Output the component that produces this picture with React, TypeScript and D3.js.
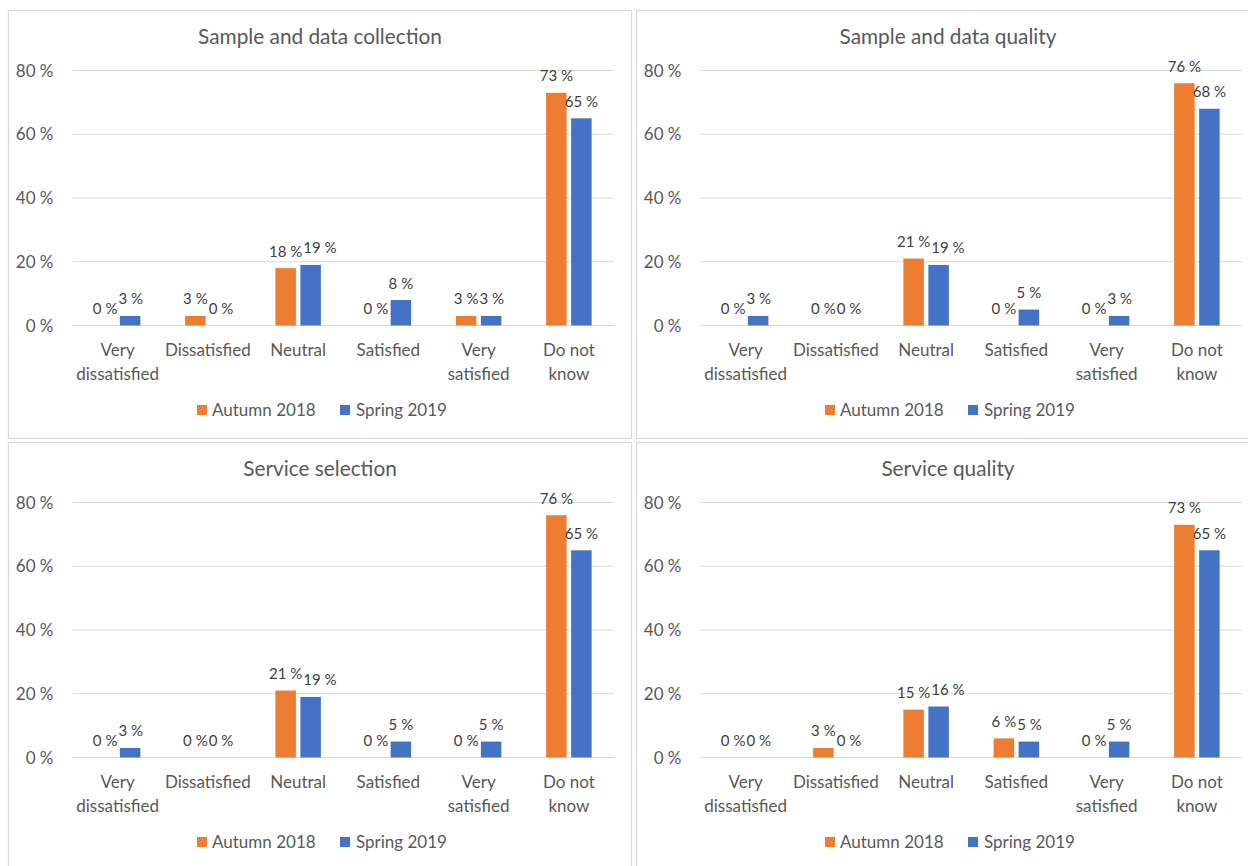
import React from "react";
import * as d3 from "d3";

// Response categories (line breaks mark where the axis label wraps)
const categories = [
  "Very\ndissatisfied",
  "Dissatisfied",
  "Neutral",
  "Satisfied",
  "Very\nsatisfied",
  "Do not\nknow",
];

const seriesNames = ["Autumn 2018", "Spring 2019"];
const seriesColors = ["#ED7D31", "#4472C4"];

const yTicks = [0, 20, 40, 60, 80];

// Share of respondents (%) per category
const collectionAutumn = [0, 3, 18, 0, 3, 73];
const collectionSpring = [3, 0, 19, 8, 3, 65];

const dataQualityAutumn = [0, 0, 21, 0, 0, 76];
const dataQualitySpring = [3, 0, 19, 5, 3, 68];

const selectionAutumn = [0, 0, 21, 0, 0, 76];
const selectionSpring = [3, 0, 19, 5, 5, 65];

const serviceQualityAutumn = [0, 3, 15, 6, 0, 73];
const serviceQualitySpring = [0, 0, 16, 5, 5, 65];

const panelTitles = [
  "Sample and data collection",
  "Sample and data quality",
  "Service selection",
  "Service quality",
];

const panelSeries = [
  [collectionAutumn, collectionSpring],
  [dataQualityAutumn, dataQualitySpring],
  [selectionAutumn, selectionSpring],
  [serviceQualityAutumn, serviceQualitySpring],
];

const FONT = "Lato, 'Open Sans', sans-serif";
const TEXT = "#595959";
const LABEL = "#404040";
const GRID = "#d9d9d9";
const LABEL_SIZE = 15;

const PANEL_W = 624;
const PANEL_H = 429;
const panelOrigins: [number, number][] = [
  [8, 10],
  [636, 10],
  [8, 442],
  [636, 442],
];

// Text width measurement for the value labels, so that neighbouring labels can be kept apart
let measureCtx: CanvasRenderingContext2D | null = null;
function labelWidth(s: string): number {
  if (!measureCtx) {
    const c = document.createElement("canvas");
    measureCtx = c.getContext("2d");
  }
  if (!measureCtx) return s.length * LABEL_SIZE * 0.55;
  measureCtx.font = `${LABEL_SIZE}px Lato`;
  return measureCtx.measureText(s).width;
}

function Panel({
  title,
  series,
  x0,
  y0,
}: {
  title: string;
  series: number[][];
  x0: number;
  y0: number;
}) {
  const plotLeft = 64.5;
  const plotRight = 606;
  const y = d3.scaleLinear().domain([0, 80]).range([315.5, 60.5]);
  const x = d3.scaleBand<string>().domain(categories).range([plotLeft, plotRight]).paddingInner(0).paddingOuter(0);
  const bw = x.bandwidth();
  const pairW = 45.5;
  const xs = d3
    .scaleBand<string>()
    .domain(seriesNames)
    .range([bw / 2 - pairW / 2, bw / 2 + pairW / 2])
    .paddingInner(0.18)
    .paddingOuter(0);
  const sbw = xs.bandwidth();

  return (
    <g transform={`translate(${x0},${y0})`}>
      <rect x={0.5} y={0.5} width={PANEL_W - 1} height={PANEL_H - 1} fill="#fff" stroke={GRID} strokeWidth={1.2} />
      <text x={PANEL_W / 2} y={34} textAnchor="middle" fontSize={20.8} fill={TEXT} fontFamily={FONT}>
        {title}
      </text>
      {yTicks.map((t) => (
        <g key={t}>
          <line x1={plotLeft} x2={plotRight} y1={y(t)} y2={y(t)} stroke={GRID} strokeWidth={1.2} />
          <text x={45.5} y={y(t)} dy="0.36em" textAnchor="end" fontSize={17} fill={TEXT} fontFamily={FONT}>
            {`${t} %`}
          </text>
        </g>
      ))}
      {categories.map((c, i) => {
        // value labels: centred above each bar, the second one pushed right if the pair collides
        const labels = series.map((vals, s) => {
          const v = vals[i];
          const text = `${v} %`;
          return {
            v,
            text,
            cx: (xs(seriesNames[s]) as number) + sbw / 2,
            base: y(v) - 11.5,
            w: labelWidth(text),
          };
        });
        const [a, b] = labels;
        if (Math.abs(a.base - b.base) < 11) {
          const need = (a.w + b.w) / 2 + 1;
          const have = b.cx - a.cx;
          if (have < need) b.cx += need - have;
        }
        return (
          <g key={c} transform={`translate(${x(c)},0)`}>
            {series.map((vals, s) => {
              const v = vals[i];
              const bx = xs(seriesNames[s]) as number;
              const top = y(v);
              return v > 0 ? (
                <rect key={s} x={bx} y={top} width={sbw} height={y(0) - top} fill={seriesColors[s]} />
              ) : null;
            })}
            {labels.map((l, s) => (
              <text
                key={`l${s}`}
                x={l.cx}
                y={l.base}
                textAnchor="middle"
                fontSize={LABEL_SIZE}
                fill={LABEL}
                fontFamily={FONT}
              >
                {l.text}
              </text>
            ))}
            {c.split("\n").map((line, li) => (
              <text
                key={li}
                x={bw / 2}
                y={346 + li * 23.5}
                textAnchor="middle"
                fontSize={17}
                fill={TEXT}
                fontFamily={FONT}
              >
                {line}
              </text>
            ))}
          </g>
        );
      })}
      <g>
        <rect x={189} y={395} width={10} height={10} fill={seriesColors[0]} />
        <text x={204} y={406} fontSize={17} fill={TEXT} fontFamily={FONT}>
          {seriesNames[0]}
        </text>
        <rect x={332} y={395} width={10} height={10} fill={seriesColors[1]} />
        <text x={348} y={406} fontSize={17} fill={TEXT} fontFamily={FONT}>
          {seriesNames[1]}
        </text>
      </g>
    </g>
  );
}

export default function App() {
  return (
    <svg
      width={1248}
      height={866}
      style={{ position: "absolute", left: 0, top: 0, background: "#fff" }}
    >
      <rect width={1248} height={866} fill="#fff" />
      {panelTitles.map((t, i) => (
        <Panel key={t} title={t} series={panelSeries[i]} x0={panelOrigins[i][0]} y0={panelOrigins[i][1]} />
      ))}
    </svg>
  );
}
